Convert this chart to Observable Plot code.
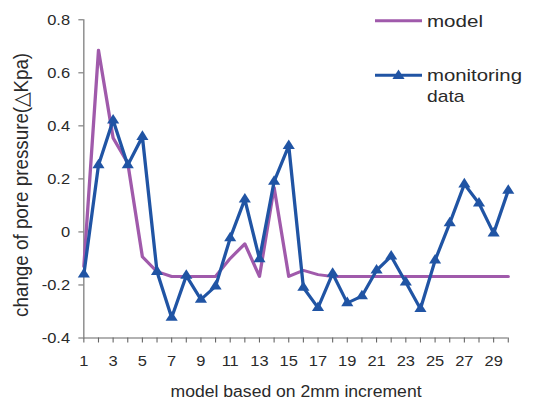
<!DOCTYPE html>
<html>
<head>
<meta charset="utf-8">
<script src="https://cdn.jsdelivr.net/npm/d3@7"></script>
<script src="https://cdn.jsdelivr.net/npm/@observablehq/plot@0.6"></script>
<style>
  html, body { margin: 0; padding: 0; background: #ffffff; }
  #wrap { position: relative; width: 533px; height: 403px; overflow: hidden; }
  #legend { position: absolute; left: 0; top: 0; pointer-events: none; }
</style>
</head>
<body>
<div id="wrap"></div>
<script>
// ---- data ----
const increments = [1,2,3,4,5,6,7,8,9,10,11,12,13,14,15,16,17,18,19,20,21,22,23,24,25,26,27,28,29,30];
const modelValues = [-0.13, 0.685, 0.354, 0.26, -0.094, -0.15, -0.168, -0.168, -0.168, -0.168,
                     -0.10, -0.045, -0.168, 0.168, -0.168, -0.145, -0.161, -0.168, -0.168, -0.168,
                     -0.168, -0.168, -0.168, -0.168, -0.168, -0.168, -0.168, -0.168, -0.168, -0.168];
const monitoringValues = [-0.16, 0.252, 0.421, 0.252, 0.359, -0.15, -0.323, -0.165, -0.255, -0.205,
                          -0.023, 0.123, -0.102, 0.19, 0.325, -0.21, -0.286, -0.157, -0.268, -0.242,
                          -0.145, -0.092, -0.19, -0.29, -0.107, 0.033, 0.18, 0.108, -0.005, 0.156];
const seriesNames = ["model", "monitoring data"];
const seriesColors = ["#A05AAB", "#2054A4"];
const yTicks = [-0.4, -0.2, 0, 0.2, 0.4, 0.6, 0.8];
const yTickLabels = ["-0.4", "-0.2", "0", "0.2", "0.4", "0.6", "0.8"];
const xTicks = increments;
const xTickLabels = ["1","3","5","7","9","11","13","15","17","19","21","23","25","27","29"];
const xTitle = "model based on 2mm increment";
const yTitle = "change of pore pressure(\u25B3Kpa)";

const rows = increments.map((x, i) => ({x, model: modelValues[i], monitoring: monitoringValues[i]}));

// the reference is slightly stretched horizontally
const W = 485, H = 403, S = 533 / W;
const font = "'Liberation Sans', Arial, Helvetica, sans-serif";
const axisColor = "#666";

const chart = Plot.plot({
  width: W, height: H,
  marginLeft: 75.8, marginRight: 23, marginTop: 19.3, marginBottom: 65.5,
  x: {domain: [1, 30], label: null},
  y: {domain: [-0.4, 0.8], label: null},
  style: {fontFamily: font, fontSize: "15px", color: "#2a2a2a", background: "white", overflow: "visible"},
  marks: [
    Plot.axisY({ticks: yTicks, tickSize: 4.5, tickPadding: 8, stroke: axisColor, label: null,
      tickFormat: d => yTickLabels[yTicks.findIndex(t => Math.abs(t - d) < 1e-9)]}),
    Plot.axisX({ticks: xTicks, tickSize: 5, tickPadding: 12.5, stroke: axisColor, label: null,
      tickFormat: d => xTickLabels.includes(String(d)) ? String(d) : ""}),
    Plot.ruleY([-0.4], {stroke: axisColor}),
    Plot.ruleX([1], {stroke: axisColor}),
    Plot.text([xTitle], {text: d => d, frameAnchor: "bottom", textAnchor: "middle", lineAnchor: "middle",
      dy: 54, fontSize: 16, fill: "#2a2a2a"}),
    Plot.text([yTitle], {text: d => d, frameAnchor: "left", textAnchor: "middle", lineAnchor: "middle",
      rotate: -90, dx: -57, dy: 6, fontSize: 18.8, fill: "#2a2a2a"}),
    Plot.line(rows, {x: "x", y: "model", stroke: seriesColors[0], strokeWidth: 3}),
    Plot.line(rows, {x: "x", y: "monitoring", stroke: seriesColors[1], strokeWidth: 3}),
    Plot.dot(rows, {x: "x", y: "monitoring", symbol: "triangle", r: 4.1, fill: seriesColors[1], stroke: "none"})
  ]
});

chart.setAttribute("viewBox", `0 0 ${W} ${H}`);
chart.setAttribute("width", 533);
chart.setAttribute("height", H);
chart.setAttribute("preserveAspectRatio", "none");
chart.style.width = "533px";
chart.style.height = H + "px";
chart.style.maxWidth = "none";
document.getElementById("wrap").appendChild(chart);

// ---- legend (overlay, top right inside the plot) ----
const ns = "http://www.w3.org/2000/svg";
const lg = document.createElementNS(ns, "svg");
lg.setAttribute("id", "legend");
lg.setAttribute("width", 533);
lg.setAttribute("height", H);
const legendItems = [
  {name: seriesNames[0], color: seriesColors[0], lineY: 20.7, lines: [{t: "model", base: 26.7, len: 56}], marker: false},
  {name: seriesNames[1], color: seriesColors[1], lineY: 75.3, lines: [{t: "monitoring", base: 81, len: 95}, {t: "data", base: 101.7, len: 37.5}], marker: true}
];
for (const it of legendItems) {
  const ln = document.createElementNS(ns, "line");
  ln.setAttribute("x1", 375); ln.setAttribute("x2", 422);
  ln.setAttribute("y1", it.lineY); ln.setAttribute("y2", it.lineY);
  ln.setAttribute("stroke", it.color); ln.setAttribute("stroke-width", 3);
  lg.appendChild(ln);
  if (it.marker) {
    const p = document.createElementNS(ns, "path");
    p.setAttribute("d", d3.symbol(d3.symbolTriangle, Math.PI * 4.1 * 4.1)());
    p.setAttribute("transform", `translate(398.5,${it.lineY + 0.5}) scale(${S},1)`);
    p.setAttribute("fill", it.color);
    lg.appendChild(p);
  }
  for (const l of it.lines) {
    const tx = document.createElementNS(ns, "text");
    tx.setAttribute("x", 427); tx.setAttribute("y", l.base);
    tx.setAttribute("font-family", font);
    tx.setAttribute("font-size", 17);
    tx.setAttribute("fill", "#2a2a2a");
    tx.setAttribute("textLength", l.len);
    tx.setAttribute("lengthAdjust", "spacingAndGlyphs");
    tx.textContent = l.t;
    lg.appendChild(tx);
  }
}
document.getElementById("wrap").appendChild(lg);
</script>
</body>
</html>
